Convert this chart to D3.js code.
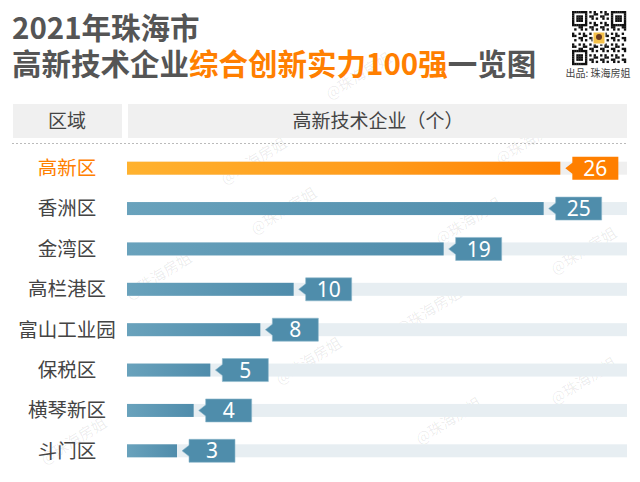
<!DOCTYPE html>
<html><head><meta charset="utf-8">
<script src="https://cdn.jsdelivr.net/npm/d3@7"></script>
<style>
html,body{margin:0;padding:0;background:#fff;}
svg{display:block;font-family:"Noto Sans CJK SC","Noto Sans",sans-serif;}
</style></head>
<body><svg id="c" width="640" height="482"></svg>
<script>
const titleLine1 = "2021年珠海市";
const titlePart1 = "高新技术企业";
const titlePart2 = "综合创新实力100强";
const titlePart3 = "一览图";
const headerLeft = "区域";
const headerRight = "高新技术企业（个）";
const sourceText = "出品: 珠海房姐";
const watermark = "@珠海房姐";
const categories = ["高新区","香洲区","金湾区","高栏港区","富山工业园","保税区","横琴新区","斗门区"];
const values = [26,25,19,10,8,5,4,3];
const xDomain = [0,30];

const svg = d3.select("#c");
const ORANGE = "#ff7f00", GRAY = "#555";

const defs = svg.append("defs");
const go = defs.append("linearGradient").attr("id","gOrange");
go.append("stop").attr("offset","0%").attr("stop-color","#ffb22f");
go.append("stop").attr("offset","60%").attr("stop-color","#ff9a1a");
go.append("stop").attr("offset","100%").attr("stop-color","#ff8000");
const gb = defs.append("linearGradient").attr("id","gBlue");
gb.append("stop").attr("offset","0%").attr("stop-color","#69a2bc");
gb.append("stop").attr("offset","100%").attr("stop-color","#4f8cab");

// watermarks
const wmPos = [[330,100],[225,185],[500,165],[255,235],[440,245],[555,275],[130,300],[400,335],[280,385],[555,405],[420,445],[45,465]];
svg.append("g").selectAll("text").data(wmPos).join("text")
  .attr("transform",d=>`translate(${d[0]},${d[1]}) rotate(-32)`)
  .attr("font-size",15).attr("fill","#000").attr("fill-opacity",0.08)
  .text(watermark);

// title
svg.append("text").attr("x",12).attr("y",39).attr("font-size",29.5).attr("font-weight",700)
  .attr("fill",GRAY).text(titleLine1);
const t2 = svg.append("text").attr("x",12).attr("y",75).attr("font-size",29.5).attr("font-weight",700);
t2.append("tspan").attr("fill",GRAY).text(titlePart1);
t2.append("tspan").attr("fill",ORANGE).text(titlePart2);
t2.append("tspan").attr("fill",GRAY).text(titlePart3);

// QR-like code
const qx = 572, qy = 11, qn = 25, qs = 54/qn;
const qr = svg.append("g");
const cells = [];
function finder(r,c){return (r<7&&c<7)||(r<7&&c>=qn-7)||(r>=qn-7&&c<7);}
for(let r=0;r<qn;r++)for(let c=0;c<qn;c++){
  if(finder(r,c)){
    const rr = r>=qn-7? r-(qn-7):r, cc = c>=qn-7? c-(qn-7):c;
    const on = rr===0||rr===6||cc===0||cc===6||(rr>=2&&rr<=4&&cc>=2&&cc<=4);
    if(on) cells.push([r,c]);
  } else if(((r*31+c*17+r*c*7)%5)<2) cells.push([r,c]);
}
qr.selectAll("rect").data(cells).join("rect")
  .attr("x",d=>qx+d[1]*qs).attr("y",d=>qy+d[0]*qs)
  .attr("width",qs+0.2).attr("height",qs+0.2).attr("fill","#111");
qr.append("rect").attr("x",qx+21).attr("y",qy+21).attr("width",12).attr("height",12).attr("fill","#f6c24a").attr("stroke","#fff").attr("stroke-width",1);
qr.append("circle").attr("cx",qx+27).attr("cy",qy+26).attr("r",3).attr("fill","#6b3a1e");
svg.append("text").attr("x",598).attr("y",77).attr("text-anchor","middle").attr("font-size",10)
  .attr("fill","#444").text(sourceText);

// header
svg.append("rect").attr("x",13).attr("y",104).attr("width",109).attr("height",34).attr("fill","#f0f0f0");
svg.append("rect").attr("x",128).attr("y",104).attr("width",499).attr("height",34).attr("fill","#f0f0f0");
svg.append("text").attr("x",67).attr("y",121).attr("dy","0.35em").attr("text-anchor","middle")
  .attr("font-size",19).attr("fill","#444").text(headerLeft);
svg.append("text").attr("x",378).attr("y",121).attr("dy","0.35em").attr("text-anchor","middle")
  .attr("font-size",19).attr("fill","#444").text(headerRight);
svg.append("line").attr("x1",12).attr("x2",628).attr("y1",143.5).attr("y2",143.5)
  .attr("stroke","#bbb").attr("stroke-dasharray","2,2");

// scales
const x = d3.scaleLinear().domain(xDomain).range([127,627]);
const y = d3.scaleBand().domain(categories).range([148,471]);
const data = categories.map((c,i)=>({c,v:values[i],i}));
const bh = 13;

const rows = svg.append("g").selectAll("g").data(data).join("g")
  .attr("transform",d=>`translate(0,${y(d.c)+y.bandwidth()/2})`);

rows.append("rect").attr("x",x(0)).attr("y",-bh/2).attr("width",x(xDomain[1])-x(0)).attr("height",bh)
  .attr("fill",d=>d.i===0?"#efefef":"#e7eef2");
rows.append("rect").attr("x",x(0)).attr("y",-bh/2).attr("width",d=>x(d.v)-x(0)).attr("height",bh)
  .attr("fill",d=>d.i===0?"url(#gOrange)":"url(#gBlue)");
rows.append("text").attr("x",67).attr("dy","0.35em").attr("text-anchor","middle")
  .attr("font-size",19.5).attr("fill",d=>d.i===0?ORANGE:"#444").text(d=>d.c);

// value callouts
const bw = 46, bhh = 23;
rows.append("path").attr("d",d=>{
  const e = x(d.v), tip = e+5, l = e+12;
  return `M${tip},0 L${l},-5.5 L${l},${-bhh/2} L${l+bw},${-bhh/2} L${l+bw},${bhh/2} L${l},${bhh/2} L${l},5.5 Z`;
}).attr("fill",d=>d.i===0?ORANGE:"#4f8dab")
  .attr("stroke",d=>d.i===0?"none":"#8fb8cc").attr("stroke-width",0.6);
rows.append("text").attr("x",d=>x(d.v)+12+bw/2).attr("dy","0.36em").attr("text-anchor","middle")
  .attr("font-family","'Noto Sans',sans-serif").attr("font-size",21).attr("fill","#fff").text(d=>d.v);
</script></body></html>
